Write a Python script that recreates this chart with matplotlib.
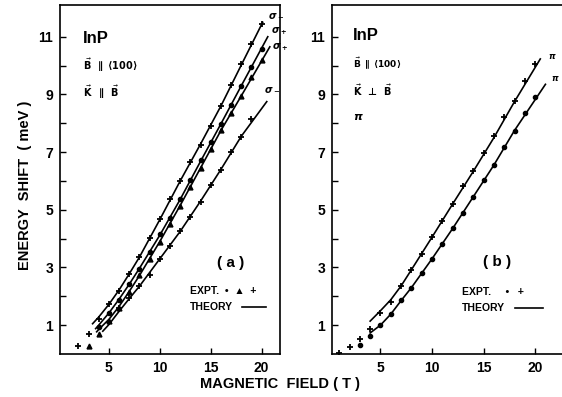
import matplotlib
matplotlib.use("Agg")
import matplotlib.pyplot as plt
from matplotlib.ticker import FixedLocator

plt.rcParams['font.family'] = ['Liberation Sans', 'DejaVu Sans']
plt.rcParams['font.weight'] = 'bold'
plt.rcParams['mathtext.fontset'] = 'dejavusans'

# ---------------- Panel (a) data: B || <100>, K || B ----------------
a1_B = [2, 3, 4, 5, 6, 7, 8, 9, 10, 11, 12, 13, 14, 15, 16, 17, 18, 19, 20]
a1_E = [0.28, 0.71, 1.2, 1.72, 2.2, 2.78, 3.36, 4.02, 4.68, 5.38, 6.0, 6.65, 7.25, 7.92, 8.6, 9.32, 10.05, 10.75, 11.45]
a2_B = [4, 5, 6, 7, 8, 9, 10, 11, 12, 13, 14, 15, 16, 17, 18, 19, 20]
a2_E = [0.95, 1.43, 1.87, 2.42, 2.96, 3.52, 4.15, 4.72, 5.36, 6.02, 6.72, 7.35, 7.98, 8.65, 9.3, 9.95, 10.57]
a3_B = [3, 4, 5, 6, 7, 8, 9, 10, 11, 12, 13, 14, 15, 16, 17, 18, 19, 20]
a3_E = [0.28, 0.68, 1.15, 1.6, 2.15, 2.75, 3.3, 3.88, 4.5, 5.12, 5.8, 6.45, 7.1, 7.75, 8.35, 8.95, 9.6, 10.2]
a4_B = [5, 6, 7, 8, 9, 10, 11, 12, 13, 14, 15, 16, 17, 18, 19]
a4_E = [1.11, 1.58, 1.95, 2.35, 2.75, 3.28, 3.73, 4.25, 4.75, 5.27, 5.85, 6.38, 7.0, 7.52, 8.15]

ta1_B = [3.4, 4, 5, 6, 7, 8, 10, 12, 14, 16, 18, 20.1]
ta1_E = [1.05, 1.28, 1.72, 2.22, 2.78, 3.36, 4.66, 6.0, 7.28, 8.6, 10.02, 11.5]
ta2_B = [3.7, 4, 5, 6, 7, 8, 10, 12, 14, 16, 18, 20.6]
ta2_E = [0.88, 1.0, 1.42, 1.9, 2.42, 2.97, 4.12, 5.36, 6.68, 7.98, 9.3, 11.0]
ta3_B = [3.8, 4, 5, 6, 7, 8, 10, 12, 14, 16, 18, 20.8]
ta3_E = [0.77, 0.85, 1.2, 1.65, 2.17, 2.72, 3.9, 5.15, 6.45, 7.75, 8.95, 10.65]
ta4_B = [4.4, 5, 6, 7, 8, 10, 12, 14, 16, 18, 20.5]
ta4_E = [0.79, 1.02, 1.48, 1.92, 2.35, 3.3, 4.25, 5.3, 6.4, 7.55, 8.75]
a_labels = [r'$\sigma_-$', r'$\sigma_+$', r'$\sigma_+$', r'$\sigma_-$']

# ---------------- Panel (b) data: B || <100>, K perp B, pi ----------------
b1_B = [1, 2, 3, 4, 5, 6, 7, 8, 9, 10, 11, 12, 13, 14, 15, 16, 17, 18, 19, 20]
b1_E = [0.04, 0.24, 0.53, 0.86, 1.42, 1.82, 2.36, 2.91, 3.46, 4.05, 4.6, 5.2, 5.81, 6.33, 6.96, 7.57, 8.2, 8.78, 9.47, 10.04]
b2_B = [3, 4, 5, 6, 7, 8, 9, 10, 11, 12, 13, 14, 15, 16, 17, 18, 19, 20]
b2_E = [0.31, 0.63, 1.01, 1.39, 1.87, 2.3, 2.82, 3.3, 3.81, 4.38, 4.9, 5.46, 6.04, 6.54, 7.16, 7.74, 8.37, 8.92]

tb1_B = [4, 5, 6, 7, 8, 10, 12, 14, 16, 18, 20.5]
tb1_E = [1.14, 1.5, 1.88, 2.36, 2.92, 4.05, 5.2, 6.33, 7.5, 8.75, 10.23]
tb2_B = [4, 5, 6, 7, 8, 10, 12, 14, 16, 18, 21]
tb2_E = [0.73, 1.0, 1.38, 1.85, 2.3, 3.3, 4.35, 5.45, 6.55, 7.75, 9.35]

x_ticks = [5, 10, 15, 20]
y_major = [1, 3, 5, 7, 9, 11]
y_minor = [2, 4, 6, 8, 10]

W, H = 562, 397
fig = plt.figure(figsize=(W / 100, H / 100), dpi=100)
fig.patch.set_facecolor('white')

axA = fig.add_axes([60 / W, 43 / H, 220 / W, 349 / H])
axB = fig.add_axes([332 / W, 43 / H, 232 / W, 349 / H])


def style(ax, xlim):
    ax.set_xlim(*xlim)
    ax.set_ylim(0, 12.1)
    ax.xaxis.set_major_locator(FixedLocator(x_ticks))
    ax.yaxis.set_major_locator(FixedLocator(y_major))
    ax.yaxis.set_minor_locator(FixedLocator(y_minor))
    ax.tick_params(which='both', direction='in', length=4, width=1.0,
                   labelsize=10, pad=5)
    ax.tick_params(axis='x', which='both', top=False)
    ax.tick_params(axis='y', which='both', right=False)
    for lab in ax.get_xticklabels() + ax.get_yticklabels():
        lab.set_fontweight('bold')
    for s in ax.spines.values():
        s.set_linewidth(1.2)


style(axA, (0.2, 21.8))
style(axB, (0.3, 22.8))
axB.spines['right'].set_visible(False)

kw_plus = dict(ls='none', marker='+', ms=5, mew=1.3, color='black')
kw_dot = dict(ls='none', marker='o', ms=3, color='black')
kw_tri = dict(ls='none', marker='^', ms=3.5, color='black')
kw_line = dict(color='black', lw=1.2)

# panel (a)
axA.plot(ta1_B, ta1_E, **kw_line)
axA.plot(ta2_B, ta2_E, **kw_line)
axA.plot(ta3_B, ta3_E, **kw_line)
axA.plot(ta4_B, ta4_E, **kw_line)
axA.plot(a1_B, a1_E, **kw_plus)
axA.plot(a2_B, a2_E, **kw_dot)
axA.plot(a3_B, a3_E, **kw_tri)
axA.plot(a4_B, a4_E, **kw_plus)

for tb, te, lab, dx, dy in [(ta1_B, ta1_E, a_labels[0], 0.5, 0.25),
                            (ta2_B, ta2_E, a_labels[1], 0.3, 0.2),
                            (ta3_B, ta3_E, a_labels[2], 0.2, 0.0),
                            (ta4_B, ta4_E, a_labels[3], -0.3, 0.45)]:
    axA.text(tb[-1] + dx, te[-1] + dy, lab, fontsize=7, ha='left', va='center')

axA.text(0.105, 0.905, 'InP', transform=axA.transAxes, fontsize=12, fontweight='bold',
         va='center')
axA.text(0.105, 0.828, r'$\vec{\mathbf{B}}$  $\mathbf{\parallel}$ $\mathbf{\langle 100\rangle}$',
         transform=axA.transAxes, fontsize=7, va='center')
axA.text(0.105, 0.75, r'$\vec{\mathbf{K}}$  $\mathbf{\parallel}$  $\vec{\mathbf{B}}$',
         transform=axA.transAxes, fontsize=7, va='center')
axA.text(0.775, 0.26, '( a )', transform=axA.transAxes, fontsize=11, fontweight='bold',
         ha='center', va='center')
axA.text(0.59, 0.18, 'EXPT.  •  ▲  +', transform=axA.transAxes, fontsize=7.5,
         fontweight='bold', va='center', family=['Liberation Sans', 'DejaVu Sans'])
axA.text(0.59, 0.135, 'THEORY', transform=axA.transAxes, fontsize=7.5,
         fontweight='bold', va='center')
axA.plot([0.825, 0.935], [0.135, 0.135], transform=axA.transAxes, **kw_line)

# panel (b)
axB.plot(tb1_B, tb1_E, **kw_line)
axB.plot(tb2_B, tb2_E, **kw_line)
axB.plot(b1_B, b1_E, **kw_plus)
axB.plot(b2_B, b2_E, **kw_dot)
axB.text(tb1_B[-1] + 0.7, tb1_E[-1] + 0.1, r'$\pi$', fontsize=6, ha='left', va='center')
axB.text(tb2_B[-1] + 0.5, tb2_E[-1] + 0.2, r'$\pi$', fontsize=6, ha='left', va='center')

axB.text(0.09, 0.912, 'InP', transform=axB.transAxes, fontsize=12, fontweight='bold',
         va='center')
axB.text(0.09, 0.834, r'$\vec{\mathbf{B}}$ $\mathbf{\parallel}$ $\mathbf{\langle 100\rangle}$',
         transform=axB.transAxes, fontsize=6.5, va='center')
axB.text(0.09, 0.756, r'$\vec{\mathbf{K}}$' + '  \u22A5  ' + r'$\vec{\mathbf{B}}$',
         transform=axB.transAxes, fontsize=7, va='center', family=['DejaVu Sans'])
axB.text(0.09, 0.679, r'$\pi$', transform=axB.transAxes, fontsize=8, va='center')
axB.text(0.71, 0.265, '( b )', transform=axB.transAxes, fontsize=11, fontweight='bold',
         ha='center', va='center')
axB.text(0.56, 0.177, 'EXPT.     •   +', transform=axB.transAxes, fontsize=7.5,
         fontweight='bold', va='center', family=['Liberation Sans', 'DejaVu Sans'])
axB.text(0.56, 0.133, 'THEORY', transform=axB.transAxes, fontsize=7.5,
         fontweight='bold', va='center')
axB.plot([0.79, 0.91], [0.133, 0.133], transform=axB.transAxes, **kw_line)

fig.text(25 / W, 1 - 185 / H, 'ENERGY  SHIFT  ( meV )', rotation=90, fontsize=10.5,
         fontweight='bold', ha='center', va='center')
fig.text(280 / W, 1 - 384 / H, 'MAGNETIC  FIELD ( T )', fontsize=10.5,
         fontweight='bold', ha='center', va='center')

fig.savefig('out.png', dpi=100, facecolor='white')
